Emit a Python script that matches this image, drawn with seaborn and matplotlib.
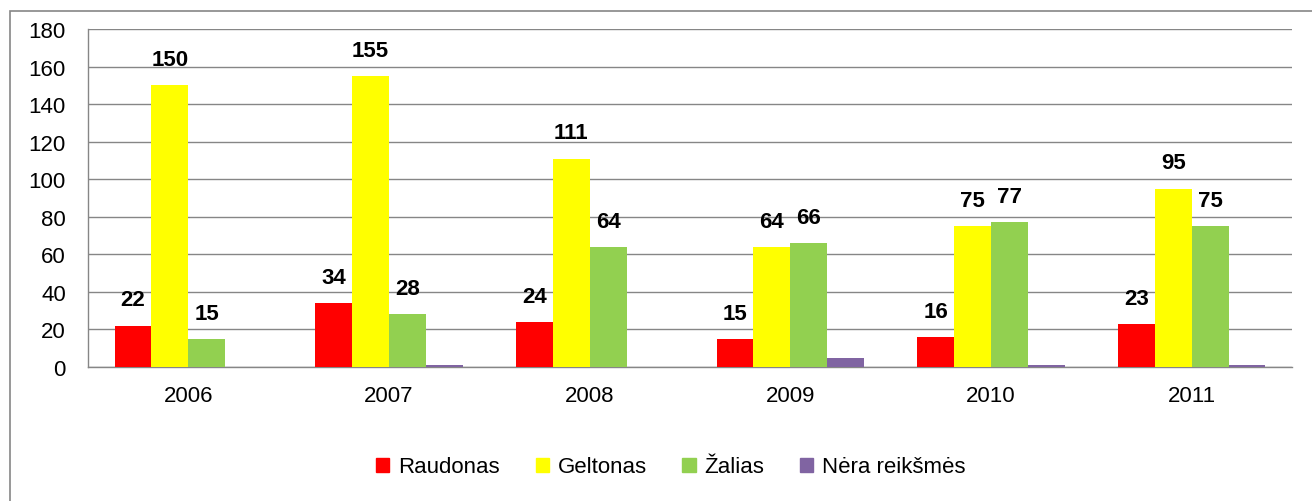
import pandas as pd
import matplotlib.pyplot as plt
import matplotlib.patches as mpatches
import seaborn as sns

# Data
years = ['2006', '2007', '2008', '2009', '2010', '2011']
raudonas = [22, 34, 24, 15, 16, 23]
geltonas = [150, 155, 111, 64, 75, 95]
zalias = [15, 28, 64, 66, 77, 75]
nera = [0, 1, 0, 5, 1, 1]

series = ['Raudonas', 'Geltonas', 'Žalias', 'Nėra reikšmės']
colors = ['#FF0000', '#FFFF00', '#92D050', '#8064A2']

df = pd.DataFrame({
    'year': years * 4,
    'series': [s for s in series for _ in years],
    'value': raudonas + geltonas + zalias + nera,
})

sns.set_style('white')
plt.rcParams['font.family'] = ['Liberation Sans', 'DejaVu Sans']
plt.rcParams['text.color'] = 'black'
plt.rcParams['xtick.color'] = 'black'
plt.rcParams['ytick.color'] = 'black'

fig = plt.figure(figsize=(13.12, 5.02), dpi=100)
ax = fig.add_axes([88 / 1312, 1 - 368 / 502, (1292 - 88) / 1312, (368 - 30) / 502])

sns.barplot(data=df, x='year', y='value', hue='series', palette=colors,
            width=0.735, gap=0, saturation=1, linewidth=0, ax=ax,
            legend=True, zorder=3)

# value labels (not for the purple series)
for cont, s in zip(ax.containers, series):
    if s == 'Nėra reikšmės':
        continue
    ax.bar_label(cont, padding=11, fontsize=16, fontweight='bold', color='black')

ax.set_ylim(0, 180)
ax.set_yticks(range(0, 181, 20))
ax.set_xlim(-0.5, len(years) - 0.5)
ax.set_xlabel('')
ax.set_ylabel('')
ax.yaxis.grid(True, color='#868686', linewidth=1)
ax.set_axisbelow(True)
for side in ['top', 'right']:
    ax.spines[side].set_visible(False)
for side in ['left', 'bottom']:
    ax.spines[side].set_color('#868686')
    ax.spines[side].set_linewidth(1)

# ticks at category boundaries on x
ax.set_xticks([i + 0.5 for i in range(-1, len(years))], minor=False)
ax.set_xticklabels([])
ax.set_xticks(range(len(years)), minor=True)
ax.set_xticklabels(years, minor=True)
ax.tick_params(axis='x', which='major', direction='out', length=7, color='#868686', width=1)
ax.tick_params(axis='x', which='minor', length=0, pad=13, labelsize=16)
ax.tick_params(axis='y', direction='out', length=6, color='#868686', width=1,
               labelsize=16, pad=10)

handles = [mpatches.Patch(color=c) for c in colors]
ax.legend(handles, series, loc='center', bbox_to_anchor=(671 / 1312, (502 - 468) / 502),
          bbox_transform=fig.transFigure, ncol=4, frameon=False, fontsize=16,
          handlelength=0.6, handleheight=0.6, handletextpad=0.4, columnspacing=1.6)

# outer chart frame
fig.patches.append(mpatches.Rectangle((10 / 1312, -0.1), 1.2, 1 - 12 / 502 + 0.1,
                                      transform=fig.transFigure, fill=False,
                                      edgecolor='#868686', linewidth=1.2))

fig.savefig('out.png', dpi=100)
